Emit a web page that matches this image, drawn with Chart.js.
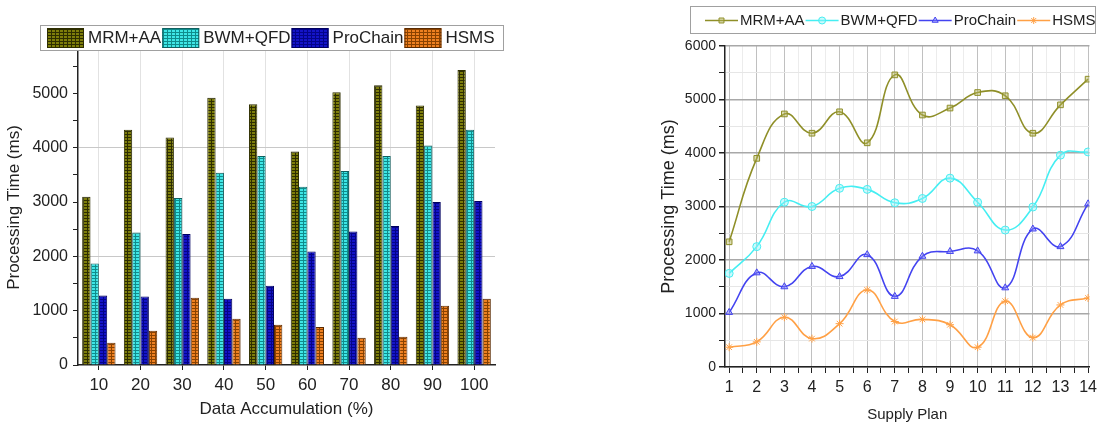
<!DOCTYPE html>
<html lang="en">
<head>
    <meta charset="UTF-8">
    <title>Processing Time Comparison</title>
    <script src="https://cdn.jsdelivr.net/npm/chart.js"></script>
    <style>
        body {
            margin: 0;
            background: #ffffff;
            width: 1102px;
            height: 427px;
            position: relative;
            overflow: hidden;
        }
        .panel {
            position: absolute;
            top: 0;
            height: 427px;
        }
        #barPanel { left: 0; width: 520px; }
        #linePanel { left: 600px; width: 502px; }
    </style>
</head>
<body>
    <div class="panel" id="barPanel"><canvas id="barChart"></canvas></div>
    <div class="panel" id="linePanel"><canvas id="lineChart"></canvas></div>
    <script>
        // Bar chart: processing time vs data accumulation
        const accumulation = ['10', '20', '30', '40', '50', '60', '70', '80', '90', '100'];
        const mrmAA = [3100, 4330, 4190, 4920, 4800, 3930, 5020, 5150, 4780, 5430];
        const bwmQFD = [1870, 2440, 3075, 3540, 3850, 3280, 3570, 3850, 4040, 4330];
        const proChain = [1280, 1260, 2410, 1220, 1460, 2090, 2460, 2560, 3000, 3020];
        const hsms = [410, 630, 1240, 850, 740, 700, 500, 520, 1090, 1220];
        const barTicks = [0, 500, 1000, 1500, 2000, 2500, 3000, 3500, 4000, 4500, 5000, 5500];

        // Line chart: processing time per supply plan
        const plans = [1, 2, 3, 4, 5, 6, 7, 8, 9, 10, 11, 12, 13, 14];
        const planMRM = [2340, 3900, 4730, 4370, 4770, 4190, 5460, 4710, 4840, 5130, 5070, 4370, 4900, 5380];
        const planBWM = [1750, 2250, 3080, 3000, 3340, 3320, 3070, 3150, 3530, 3080, 2560, 2990, 3960, 4020];
        const planPro = [1020, 1760, 1500, 1880, 1690, 2100, 1320, 2070, 2160, 2170, 1480, 2580, 2250, 3050];
        const planHSMS = [370, 470, 930, 530, 810, 1440, 850, 890, 790, 370, 1230, 550, 1160, 1290];
        const lineTicks = [0, 500, 1000, 1500, 2000, 2500, 3000, 3500, 4000, 4500, 5000, 5500, 6000];

        const FONT = "'Liberation Sans', Arial, sans-serif";

        // small grid-hatched fill for the bars
        function hatch(base, line) {
            const c = document.createElement('canvas');
            c.width = 4; c.height = 3;
            const g = c.getContext('2d');
            g.fillStyle = base; g.fillRect(0, 0, 4, 3);
            g.fillStyle = line; g.fillRect(0, 2, 4, 1); g.fillRect(3, 0, 1, 3);
            return g.createPattern(c, 'repeat');
        }

        // framed legend row drawn above the bar plot
        const barLegend = {
            id: 'barLegend',
            afterDraw(chart, args, o) {
                const ctx = chart.ctx;
                ctx.save();
                ctx.fillStyle = '#ffffff';
                ctx.fillRect(o.x, o.y, o.w, o.h);
                ctx.strokeStyle = '#a0a0a0'; ctx.lineWidth = 1;
                ctx.strokeRect(o.x + 0.5, o.y + 0.5, o.w, o.h);
                ctx.font = o.font;
                ctx.textBaseline = 'middle';
                let x = o.x + 7;
                chart.data.datasets.forEach(ds => {
                    ctx.fillStyle = ds.backgroundColor;
                    ctx.fillRect(x, o.y + 3, 37, o.h - 5);
                    ctx.strokeStyle = ds.borderColor;
                    ctx.strokeRect(x + 0.5, o.y + 3.5, 36, o.h - 6);
                    x += 41;
                    ctx.fillStyle = '#222';
                    ctx.fillText(ds.label, x, o.y + o.h / 2 + 1);
                    x += ctx.measureText(ds.label).width + 1;
                });
                ctx.restore();
            }
        };

        // framed legend row with line samples for the line chart
        const lineLegend = {
            id: 'lineLegend',
            afterDraw(chart, args, o) {
                const ctx = chart.ctx;
                ctx.save();
                ctx.fillStyle = '#ffffff';
                ctx.fillRect(o.x, o.y, o.w, o.h);
                ctx.strokeStyle = '#a0a0a0'; ctx.lineWidth = 1;
                ctx.strokeRect(o.x + 0.5, o.y + 0.5, o.w, o.h);
                ctx.font = o.font;
                ctx.textBaseline = 'middle';
                const cy = o.y + o.h / 2 + 1;
                let x = o.x + 15;
                chart.data.datasets.forEach(ds => {
                    ctx.strokeStyle = ds.borderColor; ctx.lineWidth = 1.5;
                    ctx.beginPath(); ctx.moveTo(x, cy); ctx.lineTo(x + 33, cy); ctx.stroke();
                    ctx.fillStyle = ds.pointBackgroundColor;
                    ctx.lineWidth = 1;
                    if (Chart.helpers && Chart.helpers.drawPoint) {
                        Chart.helpers.drawPoint(ctx, { pointStyle: ds.pointStyle, radius: 3.5, rotation: 0, borderWidth: 1 }, x + 16.5, cy);
                    }
                    x += 35;
                    ctx.fillStyle = '#222';
                    ctx.fillText(ds.label, x, cy);
                    x += ctx.measureText(ds.label).width + 1;
                });
                ctx.restore();
            }
        };

        new Chart(document.getElementById('barChart'), {
            type: 'bar',
            data: {
                labels: accumulation,
                datasets: [
                    { label: 'MRM+AA', data: mrmAA, backgroundColor: hatch('#7d7d0a', '#2e2e00'), borderColor: '#2e2e00' },
                    { label: 'BWM+QFD', data: bwmQFD, backgroundColor: hatch('#3ee6e6', '#0f8c8c'), borderColor: '#106060' },
                    { label: 'ProChain', data: proChain, backgroundColor: hatch('#1414c8', '#04048a'), borderColor: '#000060' },
                    { label: 'HSMS', data: hsms, backgroundColor: hatch('#ee8020', '#8a4200'), borderColor: '#5a2a00' }
                ]
            },
            options: {
                responsive: true,
                maintainAspectRatio: false,
                animation: false,
                datasets: { bar: { categoryPercentage: 0.8, barPercentage: 1.0, borderWidth: 1 } },
                layout: { padding: { left: 0, right: 25, top: 50, bottom: 3 } },
                plugins: {
                    legend: { display: false },
                    tooltip: { enabled: false },
                    barLegend: { x: 40, y: 25, w: 463, h: 25, font: '17px ' + FONT }
                },
                scales: {
                    x: {
                        grid: { offset: false, color: '#e2e2e2', tickColor: '#222', tickLength: 5 },
                        border: { color: '#222', width: 1.5 },
                        ticks: { color: '#222', font: { family: FONT, size: 17 }, padding: 5 },
                        title: { display: true, text: 'Data Accumulation (%)', color: '#222', font: { family: FONT, size: 17 }, padding: { top: 4, bottom: 4 } },
                        afterFit(s) { s.height = 59; }
                    },
                    y: {
                        min: 0,
                        max: 5800,
                        afterBuildTicks(s) { s.ticks = barTicks.map(v => ({ value: v })); },
                        grid: {
                            color: c => c.tick && c.tick.value % 2000 === 0 && c.tick.value > 0 ? '#c8c8c8' : 'rgba(0,0,0,0)',
                            tickColor: '#222',
                            tickLength: 5
                        },
                        border: { color: '#222', width: 1.5 },
                        ticks: {
                            autoSkip: false,
                            color: '#222',
                            padding: 5,
                            font: { family: FONT, size: 16 },
                            callback: v => v % 1000 === 0 ? v : ''
                        },
                        title: { display: true, text: 'Processing Time (ms)', color: '#222', font: { family: FONT, size: 17 }, padding: { top: 4, bottom: 4 } },
                        afterFit(s) { s.width = 78; }
                    }
                }
            },
            plugins: [barLegend]
        });

        const toPoints = arr => plans.map((p, i) => ({ x: p, y: arr[i] }));
        const lineSet = (label, arr, color, fill, style) => ({
            label: label,
            data: toPoints(arr),
            borderColor: color,
            backgroundColor: color,
            pointBackgroundColor: fill,
            pointBorderColor: color,
            pointStyle: style,
            pointRadius: 4,
            pointBorderWidth: 1,
            borderWidth: 1.6,
            tension: 0.45
        });

        new Chart(document.getElementById('lineChart'), {
            type: 'line',
            data: {
                datasets: [
                    lineSet('MRM+AA', planMRM, '#8f8f28', 'rgba(180,180,90,0.45)', 'rect'),
                    lineSet('BWM+QFD', planBWM, '#45eef2', 'rgba(140,245,250,0.45)', 'circle'),
                    lineSet('ProChain', planPro, '#4343f0', 'rgba(130,130,250,0.45)', 'triangle'),
                    lineSet('HSMS', planHSMS, '#ffa045', 'rgba(255,190,120,0.6)', 'star')
                ]
            },
            options: {
                responsive: true,
                maintainAspectRatio: false,
                animation: false,
                layout: { padding: { left: 54, right: 6, top: 46, bottom: 0 } },
                plugins: {
                    legend: { display: false },
                    tooltip: { enabled: false },
                    lineLegend: { x: 90, y: 6, w: 405, h: 27, font: '15px ' + FONT }
                },
                scales: {
                    x: {
                        type: 'linear',
                        min: 0.85,
                        max: 14.05,
                        afterBuildTicks(s) {
                            const t = [];
                            for (let i = 0; i < plans.length; i++) {
                                t.push({ value: plans[i] });
                                if (i < plans.length - 1) t.push({ value: (plans[i] + plans[i + 1]) / 2 });
                            }
                            s.ticks = t;
                        },
                        grid: {
                            color: c => c.tick && Number.isInteger(c.tick.value) ? '#c0c0c0' : '#ececec',
                            tickColor: '#222',
                            tickLength: 6
                        },
                        border: { color: '#222', width: 1.5 },
                        ticks: {
                            color: '#222',
                            padding: 5,
                            maxRotation: 0,
                            autoSkip: false,
                            font: { family: FONT, size: 16 },
                            callback: v => Number.isInteger(v) ? v : ''
                        },
                        title: { display: true, text: 'Supply Plan', color: '#222', font: { family: FONT, size: 15 }, padding: { top: 4, bottom: 3 } },
                        afterFit(s) { s.height = 60; }
                    },
                    y: {
                        min: 0,
                        max: 6000,
                        afterBuildTicks(s) { s.ticks = lineTicks.map(v => ({ value: v })); },
                        grid: {
                            color: c => c.tick && c.tick.value % 1000 === 0 ? '#a8a8a8' : '#e6e6e6',
                            lineWidth: c => c.tick && c.tick.value % 1000 === 0 ? 1.5 : 1,
                            tickColor: '#222',
                            tickLength: 6
                        },
                        border: { color: '#222', width: 1.5 },
                        ticks: {
                            autoSkip: false,
                            color: '#222',
                            padding: 3,
                            font: { family: FONT, size: 14 },
                            callback: v => v % 1000 === 0 ? v : ''
                        },
                        title: { display: true, text: 'Processing Time (ms)', color: '#222', font: { family: FONT, size: 18 }, padding: { top: 4, bottom: 4 } },
                        afterFit(s) { s.width = 71; }
                    }
                }
            },
            plugins: [lineLegend]
        });
    </script>
</body>
</html>
